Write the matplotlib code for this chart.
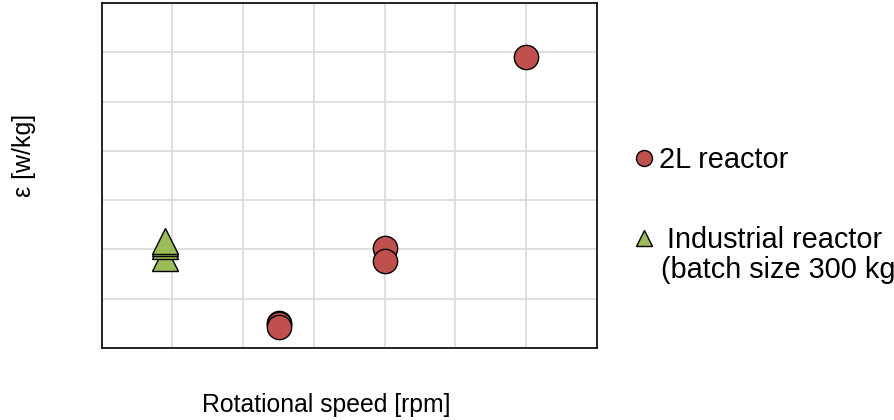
import matplotlib
matplotlib.use("Agg")
import matplotlib.pyplot as plt
from matplotlib.lines import Line2D

plt.rcParams['font.family'] = ['Liberation Sans', 'DejaVu Sans']

# data (axis units, no tick labels shown)
lab_speed = [2.5, 2.5, 2.5, 4.0, 4.0, 6.0]
lab_eps = [0.51, 0.48, 0.43, 2.04, 1.775, 5.91]
ind_speed = [0.9, 0.9, 0.9, 0.9]
ind_eps = [1.83, 2.07, 2.13, 2.18]

lab_name = "2L reactor"
ind_name = " Industrial reactor"
ind_note = "(batch size 300 kg"

red = "#C0504D"
green = "#9BBB59"

fig = plt.figure(figsize=(8.95, 4.2), dpi=100)
ax = fig.add_axes([0.1136, 0.1714, 0.5534, 0.821])

ax.plot(ind_speed, ind_eps, linestyle="none", marker="^", markersize=19,
        markerfacecolor=green, markeredgecolor="black", markeredgewidth=1, zorder=3)
ax.plot(lab_speed, lab_eps, linestyle="none", marker="o", markersize=17.5,
        markerfacecolor=red, markeredgecolor="black", markeredgewidth=1, zorder=3)

ax.set_xlim(0, 7)
ax.set_ylim(0, 7)
ax.set_xticks(range(8))
ax.set_yticks(range(8))
ax.tick_params(length=0, labelbottom=False, labelleft=False)
ax.grid(True, color="#D9D9D9", linewidth=1.2)
ax.set_axisbelow(True)
for s in ax.spines.values():
    s.set_color("black")
    s.set_linewidth(1.2)

ax.set_xlabel("Rotational speed [rpm]", fontsize=17.8, va="center")
ax.xaxis.set_label_coords(0.453, -0.165)
ax.set_ylabel("ε [w/kg]", fontsize=18, va="center")
ax.yaxis.set_label_coords(-0.157, 0.559)

# legend (outside, right)
h1 = Line2D([], [], linestyle="none", marker="o", markersize=11.5,
            markerfacecolor=red, markeredgecolor="black", markeredgewidth=1)
h2 = Line2D([], [], linestyle="none", marker="^", markersize=11.5,
            markerfacecolor=green, markeredgecolor="black", markeredgewidth=1)
fig.legend([h1, h2], [lab_name, ind_name], loc="center left",
           bbox_to_anchor=(0.7104, 0.5238), frameon=False, fontsize=20.8,
           borderpad=0, borderaxespad=0, handlelength=0.6, handletextpad=0.2,
           labelspacing=1.8)
fig.text(661 / 895, 1 - 270 / 420, ind_note, fontsize=20.8, ha="left", va="center")

fig.savefig("out.png", dpi=100)
